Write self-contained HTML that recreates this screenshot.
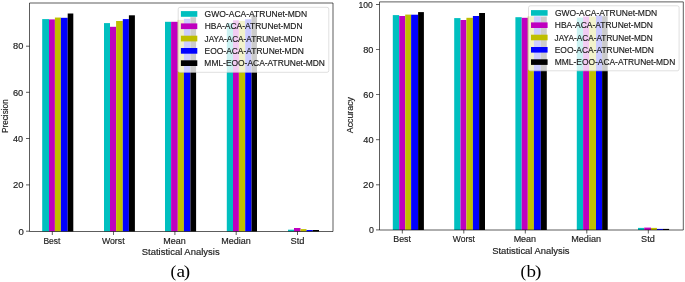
<!DOCTYPE html>
<html><head><meta charset="utf-8"><style>
html,body{margin:0;padding:0;background:#fff;}
svg{display:block;will-change:transform;}
.t{font-family:"Liberation Sans",sans-serif;font-size:8.4px;fill:#1a1a1a;stroke:#1a1a1a;stroke-width:0.15px;}
.lg{font-family:"Liberation Sans",sans-serif;font-size:8.2px;fill:#1a1a1a;stroke:#1a1a1a;stroke-width:0.15px;}
.cap{font-family:"Liberation Serif",serif;font-size:17.5px;fill:#000;}
</style></head><body>
<svg width="685" height="282" viewBox="0 0 685 282">
<rect width="685" height="282" fill="#fff"/>
<rect x="42.20" y="19.10" width="6.80" height="212.40" fill="#00bfbf"/>
<rect x="49.00" y="19.40" width="5.90" height="212.10" fill="#bf00bf"/>
<rect x="54.90" y="17.55" width="6.00" height="213.95" fill="#bfbf00"/>
<rect x="60.90" y="17.80" width="6.80" height="213.70" fill="#0000ff"/>
<rect x="67.70" y="13.50" width="5.60" height="218.00" fill="#000000"/>
<rect x="104.00" y="23.10" width="6.00" height="208.40" fill="#00bfbf"/>
<rect x="110.00" y="26.80" width="6.10" height="204.70" fill="#bf00bf"/>
<rect x="116.10" y="21.00" width="6.70" height="210.50" fill="#bfbf00"/>
<rect x="122.80" y="19.10" width="6.10" height="212.40" fill="#0000ff"/>
<rect x="128.90" y="15.30" width="6.00" height="216.20" fill="#000000"/>
<rect x="165.00" y="21.80" width="6.10" height="209.70" fill="#00bfbf"/>
<rect x="171.10" y="21.80" width="6.70" height="209.70" fill="#bf00bf"/>
<rect x="177.80" y="19.90" width="6.10" height="211.60" fill="#bfbf00"/>
<rect x="183.90" y="18.80" width="6.50" height="212.70" fill="#0000ff"/>
<rect x="190.40" y="17.20" width="5.70" height="214.30" fill="#000000"/>
<rect x="226.80" y="23.00" width="6.20" height="208.50" fill="#00bfbf"/>
<rect x="233.00" y="20.30" width="5.90" height="211.20" fill="#bf00bf"/>
<rect x="238.90" y="20.90" width="6.30" height="210.60" fill="#bfbf00"/>
<rect x="245.20" y="19.30" width="6.30" height="212.20" fill="#0000ff"/>
<rect x="251.50" y="15.10" width="5.50" height="216.40" fill="#000000"/>
<rect x="288.00" y="229.70" width="6.00" height="1.80" fill="#00bfbf"/>
<rect x="294.00" y="228.00" width="6.50" height="3.50" fill="#bf00bf"/>
<rect x="300.50" y="229.10" width="6.00" height="2.40" fill="#bfbf00"/>
<rect x="306.50" y="230.00" width="6.20" height="1.50" fill="#0000ff"/>
<rect x="312.70" y="230.00" width="6.30" height="1.50" fill="#000000"/>
<rect x="392.80" y="15.10" width="6.40" height="214.90" fill="#00bfbf"/>
<rect x="399.20" y="16.00" width="6.00" height="214.00" fill="#bf00bf"/>
<rect x="405.20" y="14.60" width="5.90" height="215.40" fill="#bfbf00"/>
<rect x="411.10" y="14.70" width="7.00" height="215.30" fill="#0000ff"/>
<rect x="418.10" y="12.10" width="5.80" height="217.90" fill="#000000"/>
<rect x="454.20" y="18.10" width="6.30" height="211.90" fill="#00bfbf"/>
<rect x="460.50" y="20.00" width="5.90" height="210.00" fill="#bf00bf"/>
<rect x="466.40" y="17.80" width="6.50" height="212.20" fill="#bfbf00"/>
<rect x="472.90" y="16.00" width="6.20" height="214.00" fill="#0000ff"/>
<rect x="479.10" y="13.00" width="5.90" height="217.00" fill="#000000"/>
<rect x="515.40" y="17.20" width="6.30" height="212.80" fill="#00bfbf"/>
<rect x="521.70" y="17.80" width="6.10" height="212.20" fill="#bf00bf"/>
<rect x="527.80" y="16.30" width="6.10" height="213.70" fill="#bfbf00"/>
<rect x="533.90" y="16.30" width="6.90" height="213.70" fill="#0000ff"/>
<rect x="540.80" y="16.50" width="6.00" height="213.50" fill="#000000"/>
<rect x="576.80" y="17.60" width="6.30" height="212.40" fill="#00bfbf"/>
<rect x="583.10" y="16.50" width="6.00" height="213.50" fill="#bf00bf"/>
<rect x="589.10" y="16.50" width="6.90" height="213.50" fill="#bfbf00"/>
<rect x="596.00" y="15.40" width="6.10" height="214.60" fill="#0000ff"/>
<rect x="602.10" y="16.20" width="5.60" height="213.80" fill="#000000"/>
<rect x="638.00" y="227.90" width="6.20" height="2.10" fill="#00bfbf"/>
<rect x="644.20" y="227.60" width="6.80" height="2.40" fill="#bf00bf"/>
<rect x="651.00" y="227.90" width="5.90" height="2.10" fill="#bfbf00"/>
<rect x="656.90" y="228.90" width="6.10" height="1.10" fill="#0000ff"/>
<rect x="663.00" y="228.90" width="6.10" height="1.10" fill="#000000"/>
<path d="M29.5,3.0H333.0V231.5H29.5Z" fill="none" stroke="#000" stroke-width="0.8" opacity="0.8"/>
<line x1="26.00" y1="231.20" x2="29.50" y2="231.20" stroke="#000" stroke-width="0.8" opacity="0.8"/>
<line x1="26.00" y1="184.90" x2="29.50" y2="184.90" stroke="#000" stroke-width="0.8" opacity="0.8"/>
<line x1="26.00" y1="138.50" x2="29.50" y2="138.50" stroke="#000" stroke-width="0.8" opacity="0.8"/>
<line x1="26.00" y1="92.30" x2="29.50" y2="92.30" stroke="#000" stroke-width="0.8" opacity="0.8"/>
<line x1="26.00" y1="46.20" x2="29.50" y2="46.20" stroke="#000" stroke-width="0.8" opacity="0.8"/>
<line x1="52.30" y1="231.50" x2="52.30" y2="235.00" stroke="#000" stroke-width="0.8" opacity="0.8"/>
<line x1="113.60" y1="231.50" x2="113.60" y2="235.00" stroke="#000" stroke-width="0.8" opacity="0.8"/>
<line x1="174.90" y1="231.50" x2="174.90" y2="235.00" stroke="#000" stroke-width="0.8" opacity="0.8"/>
<line x1="236.20" y1="231.50" x2="236.20" y2="235.00" stroke="#000" stroke-width="0.8" opacity="0.8"/>
<line x1="297.50" y1="231.50" x2="297.50" y2="235.00" stroke="#000" stroke-width="0.8" opacity="0.8"/>
<rect x="178.2" y="7.3" width="150.60" height="65.00" rx="1.8" fill="#fff" fill-opacity="0.8" stroke="#ccc" stroke-opacity="0.8" stroke-width="0.8"/>
<rect x="180.9" y="11.10" width="16.40" height="5.7" fill="#00bfbf"/>
<rect x="180.9" y="23.40" width="16.40" height="5.7" fill="#bf00bf"/>
<rect x="180.9" y="35.70" width="16.40" height="5.7" fill="#bfbf00"/>
<rect x="180.9" y="48.00" width="16.40" height="5.7" fill="#0000ff"/>
<rect x="180.9" y="60.30" width="16.40" height="5.7" fill="#000000"/>
<path d="M379.5,1.9H683.3V230.0H379.5Z" fill="none" stroke="#000" stroke-width="0.8" opacity="0.8"/>
<line x1="376.00" y1="229.90" x2="379.50" y2="229.90" stroke="#000" stroke-width="0.8" opacity="0.8"/>
<line x1="376.00" y1="184.80" x2="379.50" y2="184.80" stroke="#000" stroke-width="0.8" opacity="0.8"/>
<line x1="376.00" y1="139.70" x2="379.50" y2="139.70" stroke="#000" stroke-width="0.8" opacity="0.8"/>
<line x1="376.00" y1="94.60" x2="379.50" y2="94.60" stroke="#000" stroke-width="0.8" opacity="0.8"/>
<line x1="376.00" y1="49.60" x2="379.50" y2="49.60" stroke="#000" stroke-width="0.8" opacity="0.8"/>
<line x1="376.00" y1="4.50" x2="379.50" y2="4.50" stroke="#000" stroke-width="0.8" opacity="0.8"/>
<line x1="402.30" y1="230.00" x2="402.30" y2="233.50" stroke="#000" stroke-width="0.8" opacity="0.8"/>
<line x1="463.80" y1="230.00" x2="463.80" y2="233.50" stroke="#000" stroke-width="0.8" opacity="0.8"/>
<line x1="525.30" y1="230.00" x2="525.30" y2="233.50" stroke="#000" stroke-width="0.8" opacity="0.8"/>
<line x1="586.80" y1="230.00" x2="586.80" y2="233.50" stroke="#000" stroke-width="0.8" opacity="0.8"/>
<line x1="648.30" y1="230.00" x2="648.30" y2="233.50" stroke="#000" stroke-width="0.8" opacity="0.8"/>
<rect x="528.5" y="5.8" width="150.60" height="65.00" rx="1.8" fill="#fff" fill-opacity="0.8" stroke="#ccc" stroke-opacity="0.8" stroke-width="0.8"/>
<rect x="531.0" y="10.10" width="16.60" height="5.6" fill="#00bfbf"/>
<rect x="531.0" y="22.40" width="16.60" height="5.6" fill="#bf00bf"/>
<rect x="531.0" y="34.70" width="16.60" height="5.6" fill="#bfbf00"/>
<rect x="531.0" y="47.00" width="16.60" height="5.6" fill="#0000ff"/>
<rect x="531.0" y="59.30" width="16.60" height="5.6" fill="#000000"/>
<text id="Ly0" x="23.94" y="234.60" text-anchor="end" class="t" textLength="5.34" lengthAdjust="spacingAndGlyphs">0</text>
<text id="Ly20" x="23.44" y="188.10" text-anchor="end" class="t" textLength="10.50" lengthAdjust="spacingAndGlyphs">20</text>
<text id="Ly40" x="22.95" y="142.10" text-anchor="end" class="t" textLength="10.02" lengthAdjust="spacingAndGlyphs">40</text>
<text id="Ly60" x="23.25" y="95.90" text-anchor="end" class="t" textLength="10.31" lengthAdjust="spacingAndGlyphs">60</text>
<text id="Ly80" x="23.42" y="49.20" text-anchor="end" class="t" textLength="10.31" lengthAdjust="spacingAndGlyphs">80</text>
<text id="Lx0" x="51.93" y="243.60" text-anchor="middle" class="t" textLength="17.02" lengthAdjust="spacingAndGlyphs">Best</text>
<text id="Lx1" x="113.25" y="243.60" text-anchor="middle" class="t" textLength="22.62" lengthAdjust="spacingAndGlyphs">Worst</text>
<text id="Lx2" x="174.52" y="243.60" text-anchor="middle" class="t" textLength="22.48" lengthAdjust="spacingAndGlyphs">Mean</text>
<text id="Lx3" x="235.97" y="243.60" text-anchor="middle" class="t" textLength="29.53" lengthAdjust="spacingAndGlyphs">Median</text>
<text id="Lx4" x="297.58" y="243.60" text-anchor="middle" class="t" textLength="13.93" lengthAdjust="spacingAndGlyphs">Std</text>
<text id="Lxl" x="180.69" y="254.60" text-anchor="middle" class="t" textLength="77.87" lengthAdjust="spacingAndGlyphs">Statistical Analysis</text>
<text id="Lyl" transform="translate(7.70,116.17) rotate(-90)" text-anchor="middle" class="t" textLength="33.90" lengthAdjust="spacingAndGlyphs">Precision</text>
<text id="Lc0" x="173.39" y="276.80" text-anchor="middle" class="cap" textLength="5.79" lengthAdjust="spacingAndGlyphs">(</text>
<text id="Lc1" x="180.87" y="276.80" text-anchor="middle" class="cap" textLength="8.59" lengthAdjust="spacingAndGlyphs">a</text>
<text id="Lc2" x="187.02" y="276.80" text-anchor="middle" class="cap" textLength="6.38" lengthAdjust="spacingAndGlyphs">)</text>
<text id="Ln0" x="204.60" y="17.00" text-anchor="start" class="lg" textLength="102.44" lengthAdjust="spacingAndGlyphs">GWO-ACA-ATRUNet-MDN</text>
<text id="Ln1" x="204.69" y="29.30" text-anchor="start" class="lg" textLength="97.89" lengthAdjust="spacingAndGlyphs">HBA-ACA-ATRUNet-MDN</text>
<text id="Ln2" x="204.57" y="41.60" text-anchor="start" class="lg" textLength="97.85" lengthAdjust="spacingAndGlyphs">JAYA-ACA-ATRUNet-MDN</text>
<text id="Ln3" x="204.55" y="53.90" text-anchor="start" class="lg" textLength="99.31" lengthAdjust="spacingAndGlyphs">EOO-ACA-ATRUNet-MDN</text>
<text id="Ln4" x="204.38" y="66.20" text-anchor="start" class="lg" textLength="120.58" lengthAdjust="spacingAndGlyphs">MML-EOO-ACA-ATRUNet-MDN</text>
<text id="Ry0" x="373.83" y="232.80" text-anchor="end" class="t" textLength="4.92" lengthAdjust="spacingAndGlyphs">0</text>
<text id="Ry20" x="373.78" y="187.70" text-anchor="end" class="t" textLength="10.65" lengthAdjust="spacingAndGlyphs">20</text>
<text id="Ry40" x="373.58" y="142.60" text-anchor="end" class="t" textLength="10.28" lengthAdjust="spacingAndGlyphs">40</text>
<text id="Ry60" x="373.51" y="97.50" text-anchor="end" class="t" textLength="10.17" lengthAdjust="spacingAndGlyphs">60</text>
<text id="Ry80" x="373.42" y="52.50" text-anchor="end" class="t" textLength="10.23" lengthAdjust="spacingAndGlyphs">80</text>
<text id="Ry100" x="372.69" y="8.40" text-anchor="end" class="t" textLength="14.26" lengthAdjust="spacingAndGlyphs">100</text>
<text id="Rx0" x="402.09" y="242.00" text-anchor="middle" class="t" textLength="17.71" lengthAdjust="spacingAndGlyphs">Best</text>
<text id="Rx1" x="463.80" y="242.00" text-anchor="middle" class="t" textLength="22.16" lengthAdjust="spacingAndGlyphs">Worst</text>
<text id="Rx2" x="524.89" y="242.00" text-anchor="middle" class="t" textLength="22.47" lengthAdjust="spacingAndGlyphs">Mean</text>
<text id="Rx3" x="586.14" y="242.00" text-anchor="middle" class="t" textLength="29.83" lengthAdjust="spacingAndGlyphs">Median</text>
<text id="Rx4" x="647.97" y="242.00" text-anchor="middle" class="t" textLength="13.71" lengthAdjust="spacingAndGlyphs">Std</text>
<text id="Rxl" x="530.87" y="253.80" text-anchor="middle" class="t" textLength="77.40" lengthAdjust="spacingAndGlyphs">Statistical Analysis</text>
<text id="Ryl" transform="translate(352.70,115.11) rotate(-90)" text-anchor="middle" class="t" textLength="36.18" lengthAdjust="spacingAndGlyphs">Accuracy</text>
<text id="Rc0" x="523.40" y="276.80" text-anchor="middle" class="cap" textLength="5.73" lengthAdjust="spacingAndGlyphs">(</text>
<text id="Rc1" x="531.23" y="276.80" text-anchor="middle" class="cap" textLength="9.52" lengthAdjust="spacingAndGlyphs">b</text>
<text id="Rc2" x="538.29" y="276.80" text-anchor="middle" class="cap" textLength="6.38" lengthAdjust="spacingAndGlyphs">)</text>
<text id="Rn0" x="554.95" y="15.90" text-anchor="start" class="lg" textLength="102.23" lengthAdjust="spacingAndGlyphs">GWO-ACA-ATRUNet-MDN</text>
<text id="Rn1" x="554.78" y="28.20" text-anchor="start" class="lg" textLength="98.20" lengthAdjust="spacingAndGlyphs">HBA-ACA-ATRUNet-MDN</text>
<text id="Rn2" x="554.62" y="40.50" text-anchor="start" class="lg" textLength="98.09" lengthAdjust="spacingAndGlyphs">JAYA-ACA-ATRUNet-MDN</text>
<text id="Rn3" x="554.75" y="52.80" text-anchor="start" class="lg" textLength="99.15" lengthAdjust="spacingAndGlyphs">EOO-ACA-ATRUNet-MDN</text>
<text id="Rn4" x="554.78" y="65.10" text-anchor="start" class="lg" textLength="120.52" lengthAdjust="spacingAndGlyphs">MML-EOO-ACA-ATRUNet-MDN</text>
</svg></body></html>
